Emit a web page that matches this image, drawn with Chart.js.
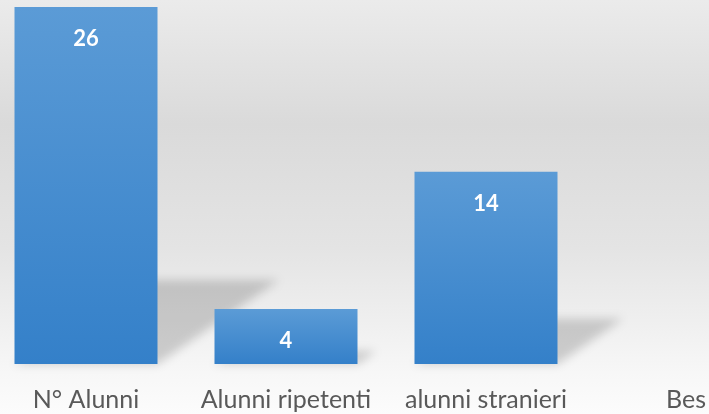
<!DOCTYPE html>
<html>
<head>
<meta charset="utf-8">
<script src="https://cdn.jsdelivr.net/npm/chart.js@4"></script>
<style>
  html, body { margin: 0; padding: 0; width: 709px; height: 414px; overflow: hidden; }
  body { background: linear-gradient(to bottom, #ebebeb 0%, #dadada 30%, #e4e4e4 60%, #f7f7f7 90%, #fcfcfc 100%); position: relative; }
  #wrap { position: absolute; left: -14px; top: 0; width: 800px; height: 414px; }
</style>
</head>
<body>
<div id="wrap"><canvas id="c"></canvas></div>
<script>
const categories = ['N° Alunni', 'Alunni ripetenti', 'alunni stranieri', 'Bes'];
const values = [26, 4, 14, null];

const FONT = 'Lato, "Open Sans", sans-serif';

const shadowPlugin = {
  id: 'barShadow',
  beforeDatasetsDraw(chart) {
    const ctx = chart.ctx;
    const meta = chart.getDatasetMeta(0);
    ctx.save();
    ctx.filter = 'blur(5px)';
    ctx.fillStyle = 'rgba(0,0,0,0.17)';
    meta.data.forEach((bar, i) => {
      if (values[i] == null) return;
      const h = bar.base - bar.y;
      const left = bar.x - bar.width / 2, right = bar.x + bar.width / 2;
      const shift = h * 0.34, sh = h * 0.235;
      ctx.beginPath();
      ctx.moveTo(left, bar.base);
      ctx.lineTo(right, bar.base);
      ctx.lineTo(right + shift, bar.base - sh);
      ctx.lineTo(left + shift, bar.base - sh);
      ctx.closePath();
      ctx.fill();
    });
    ctx.restore();
  }
};

const labelPlugin = {
  id: 'valueLabels',
  afterDatasetsDraw(chart) {
    const ctx = chart.ctx;
    const meta = chart.getDatasetMeta(0);
    ctx.save();
    ctx.fillStyle = '#ffffff';
    ctx.font = 'bold 22px ' + FONT;
    ctx.textAlign = 'center';
    ctx.textBaseline = 'middle';
    meta.data.forEach((bar, i) => {
      if (values[i] == null) return;
      ctx.fillText(String(values[i]), bar.x, bar.y + 32);
    });
    ctx.restore();
  }
};

new Chart(document.getElementById('c'), {
  type: 'bar',
  data: {
    labels: categories,
    datasets: [{
      data: values,
      backgroundColor: (c) => {
        const chart = c.chart;
        const ys = chart.scales && chart.scales.y;
        if (!ys || c.raw == null) return '#4a8fd0';
        const top = ys.getPixelForValue(c.raw);
        const bot = ys.getPixelForValue(0);
        if (!isFinite(top) || !isFinite(bot) || top === bot) return '#4a8fd0';
        const g = chart.ctx.createLinearGradient(0, top, 0, bot);
        g.addColorStop(0, '#5b9bd6');
        g.addColorStop(1, '#3480c9');
        return g;
      },
      borderWidth: 0,
      categoryPercentage: 1,
      barPercentage: 0.715
    }]
  },
  options: {
    responsive: true,
    maintainAspectRatio: false,
    animation: false,
    layout: { padding: { top: 7, left: 0, right: 0, bottom: 0 } },
    plugins: { legend: { display: false }, tooltip: { enabled: false } },
    scales: {
      x: {
        grid: { display: false },
        border: { display: false },
        ticks: { color: '#595959', font: { family: FONT, size: 25 }, padding: 13, maxRotation: 0, autoSkip: false },
        afterFit(scale) { scale.height = 50; }
      },
      y: {
        display: false,
        min: 0,
        max: 26
      }
    }
  },
  plugins: [shadowPlugin, labelPlugin]
});
</script>
</body>
</html>
